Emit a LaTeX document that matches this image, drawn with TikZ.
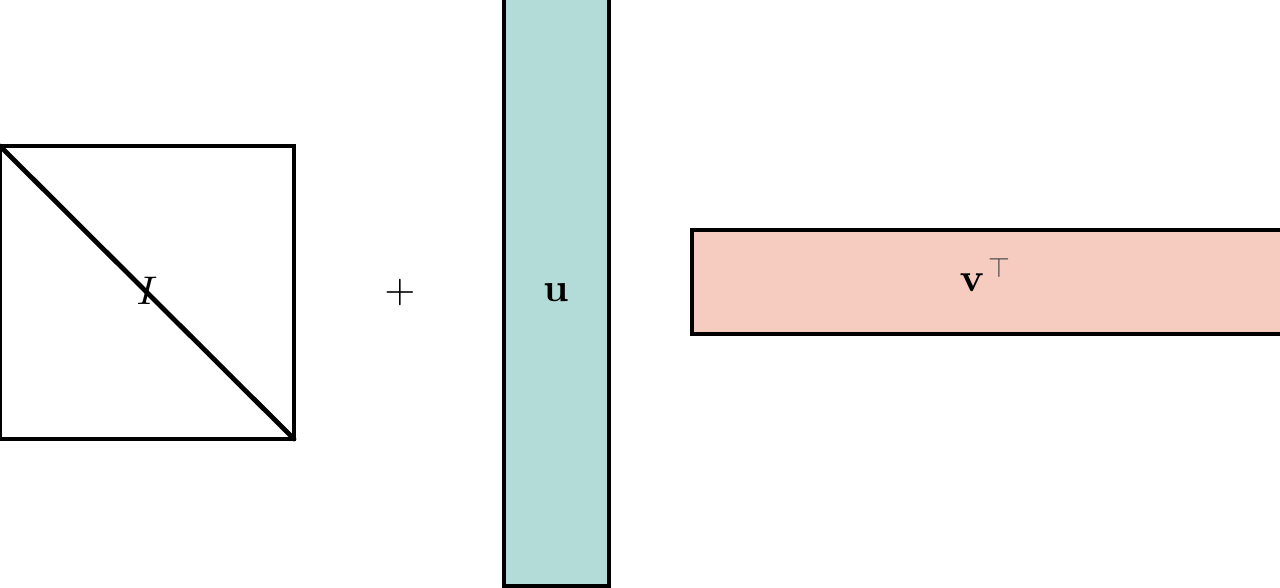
\documentclass[tikz,border=0pt]{standalone}
\usepackage{amsmath}
\begin{document}
\begin{tikzpicture}[x=1pt,y=-1pt,
  box/.style={draw=black,line width=4.8pt},
  lbl/.style={scale=4,inner sep=0pt}]
\useasboundingbox (0,0) rectangle (1280,587);
\definecolor{ublue}{HTML}{B3DCD8}
\definecolor{vred}{HTML}{F6CBC0}
\draw[box] (0,146) rectangle (294,439);
\coordinate (d1) at (0,146);
\coordinate (d2) at (294,439);
\draw[box,line cap=round] (d1) -- (d2);
\draw[box,fill=ublue] (504,-3) rectangle (609,586);
\draw[box,fill=vred] (692,230) rectangle (1283,334);
\node[lbl] (I) at (147,291) {$I$};
\node[lbl] (plus) at (400,292) {$+$};
\node[lbl] (u) at (556,293) {$\mathbf{u}$};
\node[lbl] (v) at (972,283) {$\mathbf{v}$};
\node[lbl,scale=0.7,text=black!75] (T) at (999,268) {$\top$};
\end{tikzpicture}
\end{document}
